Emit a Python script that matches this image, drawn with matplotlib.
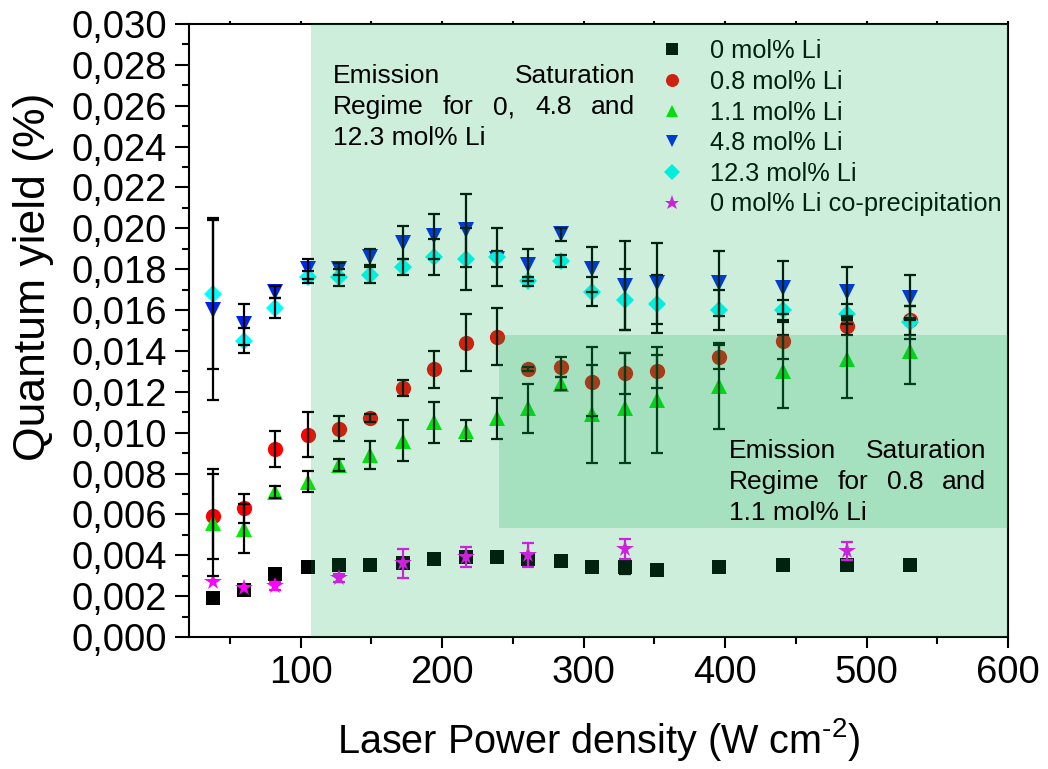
import matplotlib
matplotlib.use("Agg")
import matplotlib.pyplot as plt
from matplotlib.patches import Rectangle
from matplotlib.ticker import MultipleLocator, FuncFormatter
import numpy as np

plt.rcParams['font.family'] = ['Liberation Sans', 'DejaVu Sans']

# Laser power density (W cm^-2)
power = [38, 60, 82, 105, 127, 149, 172, 194, 217, 239, 261, 284, 306, 329, 352, 396, 441, 486, 531]

qy_li0 = [0.0019, 0.0023, 0.0031, 0.0034, 0.0035, 0.0035, 0.0036, 0.0038, 0.0039, 0.0039,
          0.0038, 0.0037, 0.0034, 0.0034, 0.0033, 0.0034, 0.0035, 0.0035, 0.0035]
err_li0 = [0, 0, 0, 0.0002, 0, 0, 0, 0, 0, 0, 0, 0, 0, 0.0003, 0.0002, 0, 0, 0, 0]

qy_li08 = [0.0059, 0.0063, 0.0092, 0.0099, 0.0102, 0.0107, 0.0122, 0.0131, 0.0144, 0.0147,
           0.0131, 0.0132, 0.0125, 0.0129, 0.0130, 0.0137, 0.0145, 0.0152, 0.0155]
err_li08 = [0.0021, 0.0007, 0.0009, 0.0011, 0.0006, 0.0002, 0.0004, 0.0009, 0.0014, 0.0014,
            0.0001, 0.0005, 0.0017, 0.0010, 0.0008, 0.0006, 0.0009, 0.0004, 0.0007]

qy_li11 = [0.0056, 0.0053, 0.0071, 0.0076, 0.0084, 0.0089, 0.0096, 0.0105, 0.0101, 0.0107,
           0.0112, 0.0124, 0.0109, 0.0112, 0.0116, 0.0123, 0.0130, 0.0136, 0.0140]
err_li11 = [0.0026, 0.0012, 0.0003, 0.0005, 0.0003, 0.0007, 0.0010, 0.0010, 0.0005, 0.0010,
            0.0012, 0.0003, 0.0024, 0.0027, 0.0026, 0.0021, 0.0018, 0.0019, 0.0016]

qy_li48 = [0.0160, 0.0153, 0.0169, 0.0180, 0.0180, 0.0186, 0.0193, 0.0196, 0.0199, 0.0185,
           0.0182, 0.0197, 0.0180, 0.0172, 0.0173, 0.0173, 0.0171, 0.0169, 0.0166]
err_li48 = [0.0044, 0.0010, 0.0003, 0.0005, 0.0003, 0.0004, 0.0008, 0.0011, 0.0018, 0.0004,
            0.0008, 0.0003, 0.0011, 0.0022, 0.0020, 0.0016, 0.0013, 0.0012, 0.0011]

qy_li123 = [0.0168, 0.0145, 0.0161, 0.0176, 0.0176, 0.0177, 0.0181, 0.0186, 0.0185, 0.0186,
            0.0174, 0.0184, 0.0169, 0.0165, 0.0163, 0.0160, 0.0160, 0.0158, 0.0154]
err_li123 = [0.0037, 0.0006, 0.0005, 0.0003, 0.0004, 0.0004, 0.0004, 0.0009, 0.0015, 0.0014,
             0.0002, 0.0003, 0.0007, 0.0015, 0.0014, 0.0010, 0.0005, 0.0005, 0.0008]

power_copre = [38, 60, 82, 127, 172, 217, 261, 329, 486]
qy_copre = [0.0027, 0.0024, 0.0025, 0.0029, 0.0036, 0.0039, 0.0040, 0.0043, 0.0042]
err_copre = [0, 0, 0.0002, 0.0002, 0.0007, 0.0005, 0.0006, 0.0005, 0.00045]

labels = ["0 mol% Li", "0.8 mol% Li", "1.1 mol% Li", "4.8 mol% Li", "12.3 mol% Li",
          "0 mol% Li co-precipitation"]

# saturation regions: (x start, x end, y low, y high)
sat_all = (107, 600, 0.0, 0.030)
sat_low = (240, 600, 0.00533, 0.01477)

fig = plt.figure(figsize=(10.48, 7.69), dpi=100)
ax = fig.add_axes([0.1803, 0.1717, 0.7815, 0.7971])

series = [
    (power, qy_li0, err_li0, 's', '#000000', 9.5, 'black'),
    (power, qy_li08, err_li08, 'o', '#ff0000', 11, 'black'),
    (power, qy_li11, err_li11, '^', '#00ee00', 11, 'black'),
    (power, qy_li48, err_li48, 'v', '#0022ee', 11, 'black'),
    (power, qy_li123, err_li123, 'D', '#00ffff', 9, 'black'),
    (power_copre, qy_copre, err_copre, '*', '#ff00ff', 13, '#ff00ff'),
]

handles = []
for (xs, ys, es, mk, col, ms, ecol), lab in zip(series, labels):
    xs = np.asarray(xs, float); ys = np.asarray(ys, float); es = np.asarray(es, float)
    h, = ax.plot(xs, ys, linestyle='none', marker=mk, color=col, markersize=ms,
                 markeredgewidth=0, label=lab, zorder=2)
    handles.append(h)
    m = es > 0
    ax.errorbar(xs[m], ys[m], yerr=es[m], fmt='none', ecolor=ecol, elinewidth=1.6,
                capsize=4, capthick=1.6, zorder=3)

ax.set_xlim(21, 600)
ax.set_ylim(0, 0.030)

# translucent green overlays for the saturation regimes
for x0, x1, y0, y1 in (sat_all, sat_low):
    ax.add_patch(Rectangle((x0, y0), x1 - x0, y1 - y0, facecolor=(0.02, 0.67, 0.31),
                           alpha=0.2, edgecolor='none', zorder=6))

ax.xaxis.set_major_locator(MultipleLocator(100))
ax.xaxis.set_minor_locator(MultipleLocator(50))
ax.yaxis.set_major_locator(MultipleLocator(0.002))
ax.yaxis.set_minor_locator(MultipleLocator(0.001))
ax.yaxis.set_major_formatter(FuncFormatter(lambda v, p: f"{v:.3f}".replace('.', ',')))
ax.xaxis.set_major_formatter(FuncFormatter(lambda v, p: f"{v:.0f}" if v >= 100 else ""))

ax.tick_params(axis='both', which='major', direction='out', width=1.5, labelsize=27.5)
ax.tick_params(axis='x', which='major', length=8, pad=5)
ax.tick_params(axis='y', which='major', length=10, pad=6)
ax.tick_params(axis='both', which='minor', direction='out', length=5, width=1.5)
ax.tick_params(axis='x', which='both', top=True, labeltop=False)
for sp in ax.spines.values():
    sp.set_linewidth(1.5)

# top ticks are very short stubs
for t in ax.xaxis.get_major_ticks() + ax.xaxis.get_minor_ticks():
    t.tick2line.set_markersize(2)

ax.set_xlabel("Laser Power density (W cm$^{\\mathregular{\u20102}}$)", fontsize=28.5,
              labelpad=18)
ax.set_ylabel("Quantum yield (%)", fontsize=32)
ax.yaxis.set_label_coords(-0.165, 0.588)

leg = ax.legend(handles=handles, loc='upper left', frameon=False, fontsize=18.3,
                labelspacing=0.26, handlelength=1.0, handletextpad=1.0,
                borderaxespad=0.0, markerscale=0.85)
leg.set_zorder(5)
leg.set_bbox_to_anchor((0.619, 0.962), transform=fig.transFigure)


def justified(lines, left, right, y0, dy, size):
    fig.canvas.draw()
    renderer = fig.canvas.get_renderer()
    px_per_unit = ax.transData.transform((1, 0))[0] - ax.transData.transform((0, 0))[0]
    for i, line in enumerate(lines):
        y = y0 - i * dy
        words = line.split()
        if i == len(lines) - 1 or len(words) == 1:
            ax.text(left, y, line, fontsize=size, va='baseline', ha='left', zorder=8)
            continue
        txts = [ax.text(left, y, w, fontsize=size, va='baseline', ha='left', zorder=8)
                for w in words]
        widths = [t.get_window_extent(renderer).width / px_per_unit for t in txts]
        gap = (right - left - sum(widths)) / (len(words) - 1)
        x = left
        for t, w in zip(txts, widths):
            t.set_x(x)
            x += w + gap


justified(["Emission Saturation", "Regime for 0, 4.8 and", "12.3 mol% Li"],
          122.6, 336.4, 0.0271, 0.00152, 19)
justified(["Emission Saturation", "Regime for 0.8 and", "1.1 mol% Li"],
          402.6, 584.7, 0.00876, 0.00152, 19)

fig.savefig("out.png", dpi=100)
